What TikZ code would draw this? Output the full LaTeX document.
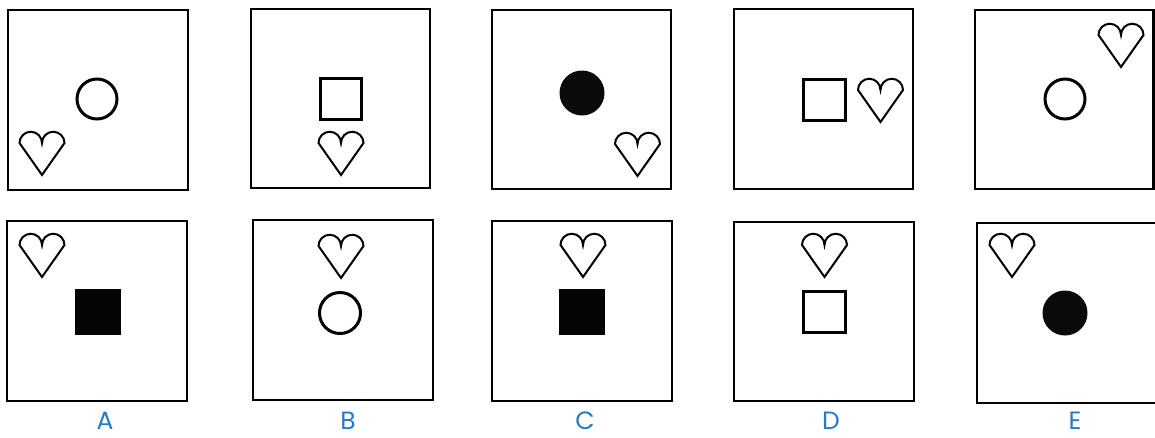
\documentclass[tikz,border=0pt]{standalone}
\usepackage{fontspec}
\setmainfont{Poppins}
\definecolor{labblue}{RGB}{38,122,200}
\tikzset{
  panel/.style={draw=black,line width=2.5pt},
  ring/.style={draw=black,line width=3pt},
  dot/.style={fill=black!96},
  osq/.style={draw=black,line width=3pt},
  fsq/.style={fill=black!98},
  heartline/.style={draw=black,line width=2pt,line join=miter},
  lab/.style={text=labblue,font=\fontsize{25}{28}\selectfont,anchor=base,inner sep=0pt},
  heart/.pic={\draw[heartline] (0,32) -- (-22.5,0) arc[start angle=180,end angle=360,radius=11.25] arc[start angle=180,end angle=360,radius=11.25] -- cycle;}
}
\begin{document}
\begin{tikzpicture}[x=1pt,y=-1pt]
\useasboundingbox (0,0) rectangle (1155,437);
\clip (0,0) rectangle (1155,437);
\fill[white] (0,0) rectangle (1155,437);
% ---- top row ----
% A
\draw[panel] (8,10) rectangle (188,190);
\draw[ring] (97,99) circle[radius=20];
\pic at (42,143) {heart};
% B
\draw[panel] (251,9) rectangle (430,188);
\draw[osq] (320.5,78.5) rectangle (361.5,119);
\pic at (341,143) {heart};
% C
\draw[panel] (492,10) rectangle (671,189);
\fill[dot] (582,93) circle[radius=22.5];
\pic at (637.5,144) {heart};
% D
\draw[panel] (734,9) rectangle (913,189);
\draw[osq] (803.5,79.5) rectangle (845.5,120.5);
\pic at (880.5,90) {heart};
% E
\draw[panel] (975,10) rectangle (1153.5,189);
\draw[ring] (1065,99) circle[radius=20];
\pic at (1121,35) {heart};
% ---- bottom row ----
% A
\draw[panel] (7,221) rectangle (187,401);
\pic at (42,245) {heart};
\fill[fsq] (75,289) rectangle (121,335);
% B
\draw[panel] (253,220) rectangle (433,400);
\pic at (341,246) {heart};
\draw[ring] (340,313) circle[radius=20.5];
% C
\draw[panel] (492,221) rectangle (672,401);
\pic at (583,245) {heart};
\fill[fsq] (559,289) rectangle (605,335);
% D
\draw[panel] (734,222) rectangle (914,401);
\pic at (824.5,245) {heart};
\draw[osq] (803.5,291.5) rectangle (845.5,332.5);
% E
\draw[panel] (977,223) rectangle (1165,403);
\pic at (1012,245) {heart};
\fill[dot] (1065,313) circle[radius=22.5];
% ---- labels ----
\node[lab] (la) at (105,429) {A};
\node[lab] (lb) at (348,429) {B};
\node[lab] (lc) at (585,429) {C};
\node[lab] (ld) at (831,429) {D};
\node[lab] (le) at (1075,429) {E};
\end{tikzpicture}
\end{document}
